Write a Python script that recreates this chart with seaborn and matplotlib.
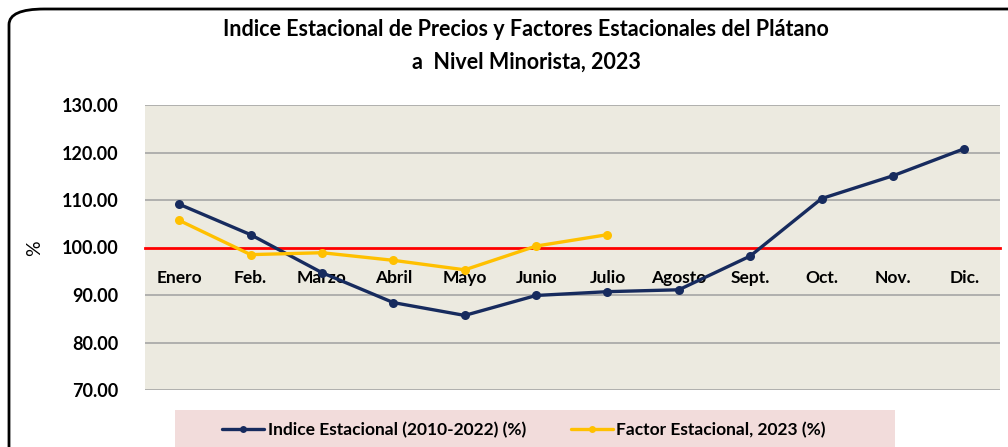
import pandas as pd
import matplotlib
matplotlib.use("Agg")
import matplotlib.pyplot as plt
from matplotlib.patches import FancyBboxPatch, Rectangle
import seaborn as sns

# ============================================
# DATOS
# ============================================
MESES = ["Enero", "Feb.", "Marzo", "Abril", "Mayo", "Junio", "Julio",
         "Agosto", "Sept.", "Oct.", "Nov.", "Dic."]
INDICE_ESTACIONAL = [109.1, 102.7, 94.7, 88.4, 85.7, 89.9, 90.7,
                     91.1, 98.2, 110.3, 115.1, 120.8]
FACTOR_2023 = [105.7, 98.5, 98.9, 97.3, 95.3, 100.3, 102.7]
Y_TICKS = [70, 80, 90, 100, 110, 120, 130]

COLOR_INDICE = "#172B5E"
COLOR_FACTOR = "#FFC000"
FONDO_PLOT = "#ECEAE0"
FONDO_LEYENDA = "#F2DCDB"

sns.set_style("white")
plt.rcParams["font.family"] = ["Lato", "DejaVu Sans"]
plt.rcParams["text.color"] = "black"
plt.rcParams["xtick.color"] = "black"
plt.rcParams["ytick.color"] = "black"

df = pd.DataFrame({
    "pos": list(range(len(MESES))) + list(range(len(FACTOR_2023))),
    "valor": INDICE_ESTACIONAL + FACTOR_2023,
    "serie": ["Indice Estacional (2010-2022) (%)"] * len(MESES)
             + ["Factor Estacional, 2023 (%)"] * len(FACTOR_2023),
})

fig = plt.figure(figsize=(10.08, 4.47), dpi=100)
ax = fig.add_axes([145 / 1008, 1 - 390 / 447, 855 / 1008, 285 / 447])
ax.set_facecolor(FONDO_PLOT)

# marco redondeado de la figura
marco = FancyBboxPatch((9 / 1008, -0.05), 1.05, 1 - 9 / 447 + 0.05,
                       boxstyle="round,pad=0,rounding_size=0.035",
                       transform=fig.transFigure, fill=False,
                       edgecolor="black", linewidth=2, zorder=0)
fig.patches.append(marco)

# cuadriculas
for y in Y_TICKS:
    if y != 100:
        ax.axhline(y, color="#A6A6A6", linewidth=1.2, zorder=1)

sns.lineplot(data=df, x="pos", y="valor", hue="serie", sort=False,
             palette=[COLOR_INDICE, COLOR_FACTOR], marker="o",
             markersize=6.5, markeredgewidth=0, linewidth=2.4,
             ax=ax, zorder=3, legend=True)

# eje horizontal cruzando en 100 (linea roja)
for lado in ["left", "right", "top"]:
    ax.spines[lado].set_visible(False)
ax.spines["bottom"].set_position(("data", 100))
ax.spines["bottom"].set_color("#FF0000")
ax.spines["bottom"].set_linewidth(2)
ax.spines["bottom"].set_zorder(2)

ax.set_xlim(-0.48, 11.5)
ax.set_ylim(70, 130)
ax.set_yticks(Y_TICKS)
ax.set_yticklabels([f"{v:.2f}" for v in Y_TICKS], fontsize=13, fontweight="bold")
ax.set_xticks(range(len(MESES)))
ax.set_xticklabels(MESES, fontsize=12.5, fontweight="bold")
ax.tick_params(axis="both", length=0)
ax.tick_params(axis="x", pad=16)
ax.tick_params(axis="y", pad=19)

ax.set_xlabel("")
ax.set_ylabel("")
fig.text(35 / 1008, 1 - 248 / 447, "%", rotation=90, fontsize=14,
         ha="center", va="center")

fig.text(526 / 1008, 1 - 30 / 447,
         "Indice Estacional de Precios y Factores Estacionales del Plátano",
         fontsize=15.5, fontweight="bold", ha="center", va="center")
fig.text(526 / 1008, 1 - 62 / 447, "a  Nivel Minorista, 2023",
         fontsize=15.5, fontweight="bold", ha="center", va="center")

# leyenda
handles, labels = ax.get_legend_handles_labels()
ax.get_legend().remove()
for h in handles:
    h.set_markersize(5)
fig.patches.append(Rectangle((175 / 1008, 0), 720 / 1008, 37 / 447,
                             transform=fig.transFigure,
                             facecolor=FONDO_LEYENDA, edgecolor="none", zorder=0))
fig.legend(handles, labels, loc="center", bbox_to_anchor=(524 / 1008, 1 - 430 / 447),
           ncol=2, frameon=False, handlelength=2.4,
           columnspacing=2.6, handletextpad=0.2,
           prop={"weight": "bold", "size": 12.5})

fig.savefig("out.png", dpi=100)
